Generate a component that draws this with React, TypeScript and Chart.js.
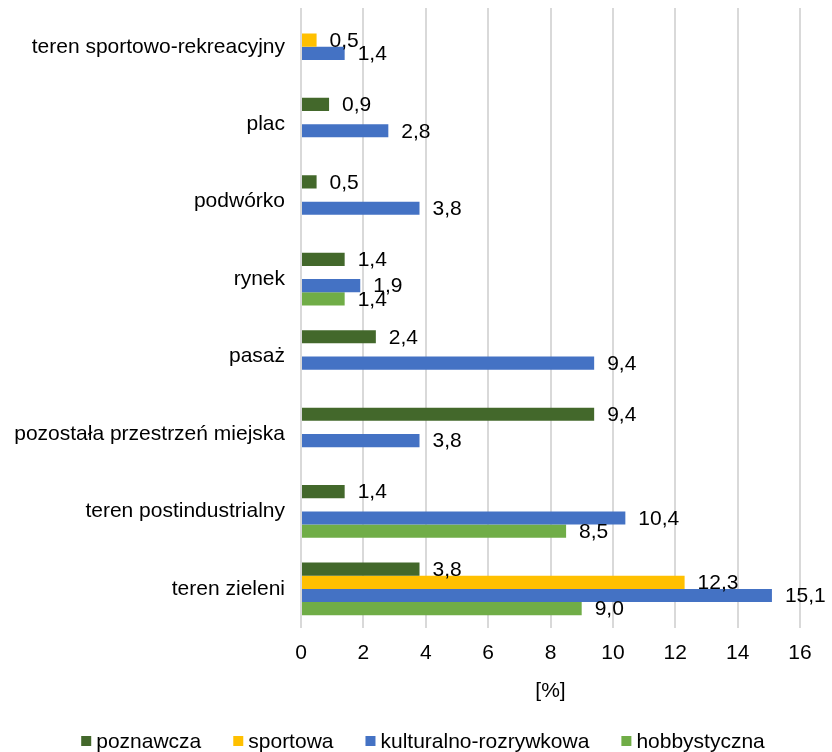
import React, { useEffect, useRef } from "react";
import { Chart, registerables } from "chart.js";

Chart.register(...registerables);

const categories = [
  "teren sportowo-rekreacyjny",
  "plac",
  "podwórko",
  "rynek",
  "pasaż",
  "pozostała przestrzeń miejska",
  "teren postindustrialny",
  "teren zieleni",
];

const poznawcza = [null, 0.9, 0.5, 1.4, 2.4, 9.4, 1.4, 3.8];
const sportowa = [0.5, null, null, null, null, null, null, 12.3];
const kulturalno = [1.4, 2.8, 3.8, 1.9, 9.4, 3.8, 10.4, 15.1];
const hobbystyczna = [null, null, null, 1.4, null, null, 8.5, 9.0];

const seriesNames = ["poznawcza", "sportowa", "kulturalno-rozrywkowa", "hobbystyczna"];
const seriesColors = ["#43682B", "#FFC000", "#4472C4", "#70AD47"];

const FONT = "'Liberation Sans', Arial, sans-serif";
const FS = 21;

const valueLabels = {
  id: "valueLabels",
  afterDatasetsDraw(chart: any) {
    const ctx = chart.ctx;
    ctx.save();
    ctx.font = `${FS}px ${FONT}`;
    ctx.fillStyle = "#000";
    ctx.textAlign = "left";
    ctx.textBaseline = "middle";
    chart.data.datasets.forEach((ds: any, di: number) => {
      const meta = chart.getDatasetMeta(di);
      meta.data.forEach((el: any, i: number) => {
        const v = ds.data[i];
        if (v === null || v === undefined) return;
        ctx.fillText(v.toFixed(1).replace(".", ","), el.x + 13, el.y + 1);
      });
    });
    ctx.restore();
  },
};

const customLegend = {
  id: "customLegend",
  afterDraw(chart: any) {
    const ctx = chart.ctx;
    ctx.save();
    ctx.font = `${FS}px ${FONT}`;
    ctx.textBaseline = "middle";
    ctx.textAlign = "left";
    const box = 10;
    const gapBox = 5;
    const spacing = 32;
    const items = chart.data.datasets.map((ds: any) => ({
      label: ds.label,
      color: ds.backgroundColor,
      w: box + gapBox + ctx.measureText(ds.label).width,
    }));
    const total = items.reduce((s: number, it: any) => s + it.w, 0) + spacing * (items.length - 1);
    let x = 423 - total / 2;
    const y = chart.height - 11;
    items.forEach((it: any) => {
      ctx.fillStyle = it.color;
      ctx.fillRect(x, y - box / 2, box, box);
      ctx.fillStyle = "#000";
      ctx.fillText(it.label, x + box + gapBox, y + 1);
      x += it.w + spacing;
    });
    ctx.restore();
  },
};

export default function App() {
  const ref = useRef<HTMLCanvasElement>(null);
  useEffect(() => {
    document.body.style.margin = "0";
    const data = [poznawcza, sportowa, kulturalno, hobbystyczna];
    const chart = new Chart(ref.current!, {
      type: "bar",
      data: {
        labels: categories,
        datasets: data.map((d, i) => ({
          label: seriesNames[i],
          data: d as any,
          backgroundColor: seriesColors[i],
          categoryPercentage: 0.68,
          barPercentage: 1,
        })),
      },
      options: {
        indexAxis: "y",
        animation: false,
        responsive: false,
        layout: { padding: { left: 8, right: 32, top: 8, bottom: 48 } },
        plugins: {
          legend: { display: false },
          tooltip: { enabled: false },
        },
        scales: {
          x: {
            min: 0,
            max: 16,
            ticks: { stepSize: 2, color: "#000", font: { family: FONT, size: FS }, padding: 13 },
            grid: { color: "#d9d9d9", lineWidth: 2, drawTicks: false },
            border: { display: false },
            title: {
              display: true,
              text: "[%]",
              color: "#000",
              font: { family: FONT, size: FS },
              padding: { top: 0, bottom: 0 },
            },
          },
          y: {
            ticks: { color: "#000", font: { family: FONT, size: FS }, padding: 16 },
            grid: { display: false, drawTicks: false },
            border: { display: false },
            afterFit(scale: any) {
              scale.width = 293;
              scale.paddingTop = 0;
              scale.paddingBottom = 0;
            },
          },
        },
      },
      plugins: [valueLabels, customLegend],
    });
    return () => chart.destroy();
  }, []);
  return <canvas ref={ref} width={832} height={752} style={{ display: "block" }} />;
}
